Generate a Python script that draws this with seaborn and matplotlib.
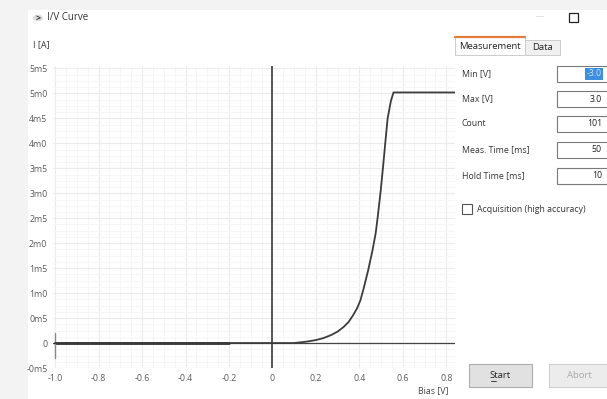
import matplotlib
matplotlib.use("Agg")
import matplotlib.pyplot as plt
import matplotlib.patches as mpatches
import numpy as np
import pandas as pd
import seaborn as sns

# I/V data (bias in V, current in mA)
bias = [-1.0, -0.6, -0.2, 0.1, 0.16, 0.2, 0.235, 0.27, 0.3, 0.327, 0.35, 0.37,
        0.39, 0.405, 0.42, 0.44, 0.46, 0.475, 0.485, 0.498, 0.51, 0.52, 0.53,
        0.545, 0.557, 0.84]
current_ma = [0.0, 0.0, 0.0, 0.0, 0.03, 0.06, 0.1, 0.16, 0.23, 0.32, 0.42, 0.55,
              0.7, 0.86, 1.1, 1.45, 1.85, 2.2, 2.55, 3.05, 3.58, 4.05, 4.5,
              4.85, 5.02, 5.02]

y_ticks = [5.5, 5.0, 4.5, 4.0, 3.5, 3.0, 2.5, 2.0, 1.5, 1.0, 0.5, 0.0, -0.5]
y_labels = ['5m5', '5m0', '4m5', '4m0', '3m5', '3m0', '2m5', '2m0', '1m5',
            '1m0', '0m5', '0', '-0m5']
x_ticks = [-1.0, -0.8, -0.6, -0.4, -0.2, 0.0, 0.2, 0.4, 0.6, 0.8]
x_labels = ['-1.0', '-0.8', '-0.6', '-0.4', '-0.2', '0', '0.2', '0.4', '0.6', '0.8']

fields = ['Min [V]', 'Max [V]', 'Count', 'Meas. Time [ms]', 'Hold Time [ms]']
field_values = ['-3.0', '3.0', '101', '50', '10']

sns.set_theme(style='white')
plt.rcParams['font.family'] = ['Open Sans', 'DejaVu Sans']

W, H = 607, 399
fig = plt.figure(figsize=(W / 100, H / 100), dpi=100, facecolor='#f3f3f3')


def fx(x):
    return x / W


def fy(y):
    return 1 - y / H


def rect(x0, y0, x1, y1, z=1, **kw):
    fig.patches.append(mpatches.Rectangle((fx(x0), fy(y1)), fx(x1 - x0), (y1 - y0) / H,
                                          transform=fig.transFigure, zorder=z, **kw))


# window background
rect(28, 10, 607, 399, z=-5, facecolor='white', edgecolor='none')

ax = fig.add_axes([fx(53), fy(368), fx(455 - 53), (368 - 66) / H])
ax.set_zorder(2)
ax.set_facecolor('white')

df = pd.DataFrame({'bias': bias, 'current': current_ma})
sns.lineplot(data=df, x='bias', y='current', ax=ax, color='#3c3c3c', lw=1.3,
             sort=False, estimator=None, zorder=5)

ax.set_xlim(-1.01, 0.84)
ax.set_ylim(-0.5, 5.55)
ax.set_xticks(x_ticks)
ax.set_xticklabels(x_labels)
ax.set_yticks(y_ticks)
ax.set_yticklabels(y_labels)
ax.set_xticks(np.arange(-1.0, 0.84, 0.05), minor=True)
ax.set_yticks(np.arange(-0.5, 5.55, 0.125), minor=True)
ax.grid(which='major', color='#ebebeb', lw=0.8)
ax.grid(which='minor', color='#f5f5f5', lw=0.6)
ax.tick_params(which='both', length=0, labelsize=6.3, colors='#5a5a5a', pad=4)
for s in ax.spines.values():
    s.set_visible(False)
ax.set_xlabel('')
ax.set_ylabel('')

# axes through origin
ax.axhline(0, color='#444444', lw=0.9, zorder=3)
ax.axvline(0, color='#555555', lw=1.4, zorder=3)
ax.plot([-1.0, -0.2], [0, 0], color='#111111', lw=1.8, zorder=4)
ax.plot([-1.0, -1.0], [-0.3, 0.2], color='#888888', lw=1.0, zorder=4)

# header
fig.patches.append(mpatches.Circle((fx(38), fy(18)), 5 / W, transform=fig.transFigure,
                                   facecolor='#dedede', edgecolor='none'))
fig.text(fx(38), fy(18.5), '>', fontsize=6.5, fontweight='bold', color='#333333',
         ha='center', va='center')
fig.text(fx(47), fy(18), 'I/V Curve', fontsize=7, color='#333333', va='center')
fig.text(fx(33), fy(45), 'I [A]', fontsize=6.5, color='#333333', va='center')
fig.text(fx(449), fy(391), 'Bias [V]', fontsize=6.3, color='#444444', ha='right', va='center')

# window controls
fig.text(fx(540), fy(17), '\u2014', fontsize=6, color='#c8c8c8', ha='center', va='center')
rect(569, 13, 578, 22, facecolor='none', edgecolor='#222222', lw=0.9)

# tabs
rect(525, 40, 560, 55, facecolor='#f0f0f0', edgecolor='#cccccc', lw=0.7)
rect(455, 37, 525, 55, facecolor='white', edgecolor='#cccccc', lw=0.7)
fig.lines.append(plt.Line2D([fx(455), fx(525)], [fy(37), fy(37)], transform=fig.transFigure,
                            color='#e07b39', lw=1.6))
fig.text(fx(490), fy(46.5), 'Measurement', fontsize=6.8, color='#222222', ha='center', va='center')
fig.text(fx(542.5), fy(47.5), 'Data', fontsize=6.8, color='#222222', ha='center', va='center')

# form fields
row_y = [74, 99, 124, 150, 176]
for label, val, y in zip(fields, field_values, row_y):
    fig.text(fx(462), fy(y), label, fontsize=6.3, color='#333333', va='center')
    rect(557, y - 8, 612, y + 8, facecolor='white', edgecolor='#7a7a7a', lw=0.8)
    if val == '-3.0':
        rect(585, y - 6, 603, y + 6, z=2, facecolor='#3b8ee0', edgecolor='none')
        fig.text(fx(602), fy(y), val, fontsize=6.3, color='#cfe3f7', ha='right', va='center')
    else:
        fig.text(fx(602), fy(y), val, fontsize=6.3, color='#222222', ha='right', va='center')

rect(462, 204, 472, 214, facecolor='white', edgecolor='#555555', lw=0.8)
fig.text(fx(477), fy(209), 'Acquisition (high accuracy)', fontsize=6.3, color='#333333', va='center')

# buttons
rect(469, 364, 532, 387, facecolor='#e1e1e1', edgecolor='#adadad', lw=0.8)
fig.text(fx(500.5), fy(375.5), 'Start', fontsize=6.8, color='#222222', ha='center', va='center')
fig.lines.append(plt.Line2D([fx(491), fx(496)], [fy(381), fy(381)], transform=fig.transFigure,
                            color='#222222', lw=0.6))
rect(549, 364, 612, 387, facecolor='#ececec', edgecolor='#cfcfcf', lw=0.8)
fig.text(fx(579), fy(375.5), 'Abort', fontsize=6.8, color='#a8a8a8', ha='center', va='center')

fig.savefig('out.png', dpi=100, facecolor=fig.get_facecolor())
